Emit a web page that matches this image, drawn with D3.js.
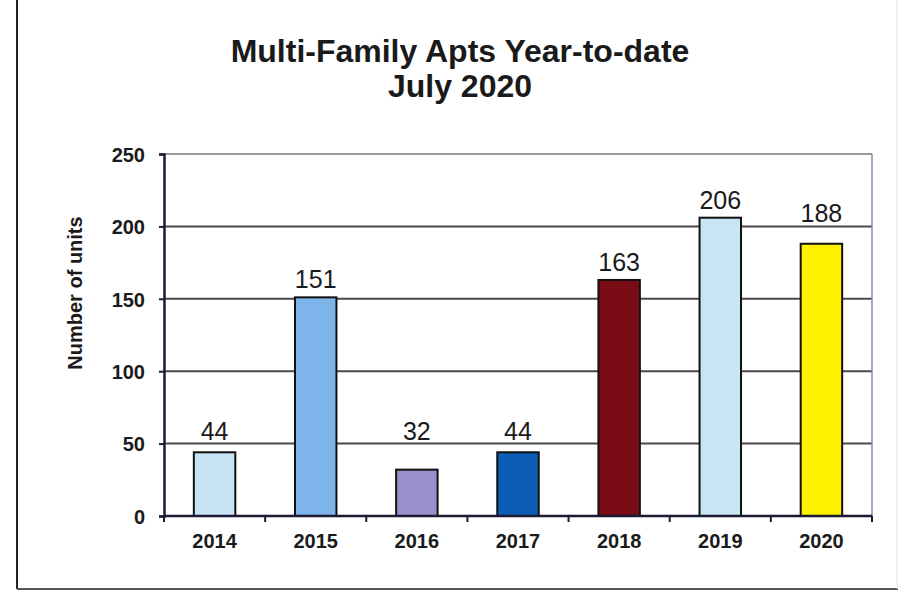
<!DOCTYPE html>
<html>
<head>
<meta charset="utf-8">
<script src="https://cdn.jsdelivr.net/npm/d3@7"></script>
<style>
  body { margin: 0; background: #fff; }
  text { font-family: "Liberation Sans", Arial, sans-serif; }
</style>
</head>
<body>
<script>
// Data
let years = ["2014", "2015", "2016", "2017", "2018", "2019", "2020"];
let units = [44, 151, 32, 44, 163, 206, 188];
let barColors = ["#c6e4f4", "#7db5ea", "#9a8ecb", "#0c5db6", "#7a0c16", "#c8e5f3", "#fff200"];
let yTicks = [0, 50, 100, 150, 200, 250];

let width = 900;
let height = 592;

let margin = {
  top: 154,
  bottom: 76,
  left: 164,
  right: 28,
};

let svg = d3
  .select("body")
  .append("svg")
  .attr("width", width)
  .attr("height", height);

// Outer frame (left and bottom dark, right faint)
svg.append("line")
  .attr("x1", 17).attr("x2", 17).attr("y1", 0).attr("y2", 589)
  .attr("stroke", "#222").attr("stroke-width", 2);
svg.append("line")
  .attr("x1", 17).attr("x2", 898).attr("y1", 589).attr("y2", 589)
  .attr("stroke", "#555").attr("stroke-width", 2);
svg.append("line")
  .attr("x1", 897).attr("x2", 897).attr("y1", 0).attr("y2", 589)
  .attr("stroke", "#e4e4e4").attr("stroke-width", 1);

// Scales
let xScale = d3
  .scaleBand()
  .domain(years)
  .range([margin.left, width - margin.right])
  .padding(0);

let yScale = d3
  .scaleLinear()
  .domain([0, 250])
  .range([height - margin.bottom, margin.top]);

let barWidth = xScale.bandwidth() * 0.41;

// Title
svg.append("text")
  .attr("x", 460)
  .attr("y", 62)
  .text("Multi-Family Apts Year-to-date")
  .style("text-anchor", "middle")
  .style("font-size", "32px")
  .style("font-weight", "bold")
  .style("fill", "#1a1a1a");

svg.append("text")
  .attr("x", 460)
  .attr("y", 97)
  .text("July 2020")
  .style("text-anchor", "middle")
  .style("font-size", "32px")
  .style("font-weight", "bold")
  .style("fill", "#1a1a1a");

// Gridlines
svg.append("g")
  .selectAll("line")
  .data(yTicks.filter((d) => d > 0))
  .join("line")
  .attr("x1", margin.left)
  .attr("x2", width - margin.right)
  .attr("y1", (d) => yScale(d))
  .attr("y2", (d) => yScale(d))
  .attr("stroke", (d) => (d === 250 ? "#9a9a9a" : "#4c4652"))
  .attr("stroke-width", 2);

// Right border of plot area
svg.append("line")
  .attr("x1", width - margin.right)
  .attr("x2", width - margin.right)
  .attr("y1", yScale(250))
  .attr("y2", yScale(0))
  .attr("stroke", "#7c8fa8")
  .attr("stroke-width", 1.5);

// Bars
svg.append("g")
  .selectAll("rect")
  .data(years)
  .join("rect")
  .attr("x", (d) => xScale(d) + (xScale.bandwidth() - barWidth) / 2)
  .attr("y", (d, i) => yScale(units[i]))
  .attr("width", barWidth)
  .attr("height", (d, i) => yScale(0) - yScale(units[i]))
  .attr("fill", (d, i) => barColors[i])
  .attr("stroke", "#111")
  .attr("stroke-width", 2);

// Value labels: sit above the bar, pushed above a gridline if they would cross it
function labelY(v) {
  let b = yScale(v) - 9;
  yTicks.forEach((t) => {
    let g = yScale(t);
    if (t > 0 && g > b - 18 && g < b + 2) b = g - 4;
  });
  return b;
}

svg.append("g")
  .selectAll("text")
  .data(years)
  .join("text")
  .attr("x", (d) => xScale(d) + xScale.bandwidth() / 2)
  .attr("y", (d, i) => labelY(units[i]))
  .text((d, i) => units[i])
  .style("text-anchor", "middle")
  .style("font-size", "25px")
  .style("fill", "#1a1a1a");

// Y axis
let yAxis = svg
  .append("g")
  .attr("transform", `translate(${margin.left}, 0)`)
  .call(d3.axisLeft(yScale).tickValues(yTicks).tickSize(5).tickPadding(14));

yAxis.select(".domain").attr("stroke", "#1c1a33").attr("stroke-width", 2.5);
yAxis.selectAll(".tick line").attr("stroke", "#1c1a33").attr("stroke-width", 2);
yAxis.selectAll(".tick text")
  .style("font-size", "20px")
  .style("font-weight", "bold")
  .style("fill", "#1a1a1a")
  .attr("dy", "0.36em");

// X axis with ticks at category boundaries
let xAxisG = svg
  .append("g")
  .attr("transform", `translate(0, ${yScale(0)})`);

xAxisG.append("line")
  .attr("x1", margin.left)
  .attr("x2", width - margin.right)
  .attr("stroke", "#1c1a33")
  .attr("stroke-width", 2.5);

xAxisG.selectAll(".bound")
  .data(years.concat(["end"]))
  .join("line")
  .attr("class", "bound")
  .attr("x1", (d, i) => (i < years.length ? xScale(d) : xScale(years[years.length - 1]) + xScale.bandwidth()))
  .attr("x2", (d, i) => (i < years.length ? xScale(d) : xScale(years[years.length - 1]) + xScale.bandwidth()))
  .attr("y1", 0)
  .attr("y2", 6)
  .attr("stroke", "#1c1a33")
  .attr("stroke-width", 2);

xAxisG.selectAll(".lbl")
  .data(years)
  .join("text")
  .attr("class", "lbl")
  .attr("x", (d) => xScale(d) + xScale.bandwidth() / 2)
  .attr("y", 32)
  .text((d) => d)
  .style("text-anchor", "middle")
  .style("font-size", "20px")
  .style("font-weight", "bold")
  .style("fill", "#1a1a1a");

// Y axis label
svg.append("text")
  .attr("x", -293)
  .attr("y", 82)
  .attr("transform", "rotate(-90)")
  .text("Number of units")
  .style("text-anchor", "middle")
  .style("font-size", "20px")
  .style("font-weight", "bold")
  .style("fill", "#1a1a1a");
</script>
</body>
</html>
